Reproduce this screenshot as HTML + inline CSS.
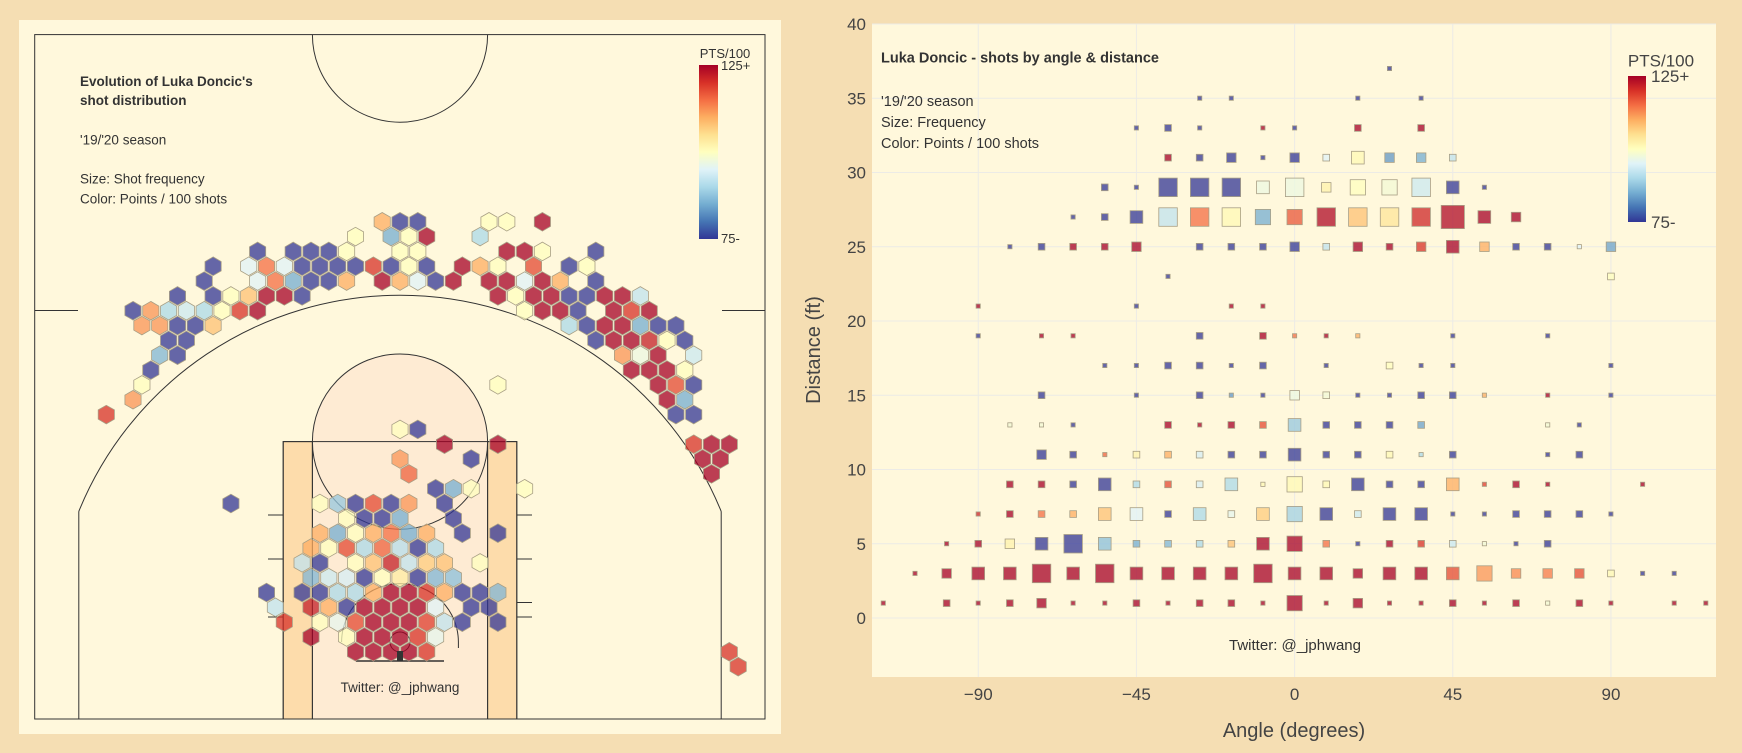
<!DOCTYPE html>
<html><head><meta charset="utf-8">
<style>
html,body{margin:0;padding:0;background:#f5deb3;}
svg{display:block;font-family:"Liberation Sans",sans-serif;}
</style></head>
<body>
<svg id="root" width="1742" height="753" viewBox="0 0 1742 753" xmlns="http://www.w3.org/2000/svg">
<defs>
<linearGradient id="cbar" x1="0" y1="1" x2="0" y2="0">
<stop offset="0" stop-color="#313695"/><stop offset="0.1" stop-color="#4575b4"/><stop offset="0.2" stop-color="#74add1"/><stop offset="0.3" stop-color="#abd9e9"/><stop offset="0.4" stop-color="#e0f3f8"/><stop offset="0.5" stop-color="#ffffbf"/><stop offset="0.6" stop-color="#fee090"/><stop offset="0.7" stop-color="#fdae61"/><stop offset="0.8" stop-color="#f46d43"/><stop offset="0.9" stop-color="#d73027"/><stop offset="1" stop-color="#a50026"/>
</linearGradient>
</defs>
<rect x="0" y="0" width="1742" height="753" fill="#f5deb3"/>

<!-- LEFT PANEL -->
<g>
<rect x="19" y="20" width="762" height="714" fill="#fff8dc"/>
<g fill="none" stroke="#333" stroke-width="1">
<rect x="283.2" y="441.6" width="233.6" height="277.4" fill="#fddcab"/>
<rect x="312.4" y="441.6" width="175.2" height="277.4" fill="#feebd3"/>
<circle cx="400" cy="441.6" r="87.6" fill="#feebd3"/>
<rect x="283.2" y="441.6" width="233.6" height="277.4"/>
<line x1="312.4" y1="441.6" x2="312.4" y2="719"/>
<line x1="487.6" y1="441.6" x2="487.6" y2="719"/>
<rect x="34.7" y="34.6" width="730.3" height="684.4"/>
<path d="M312.4,34.6 A87.6 87.6 0 0 0 487.6,34.6"/>
<line x1="34.7" y1="310.5" x2="78" y2="310.5"/>
<line x1="722" y1="310.5" x2="765" y2="310.5"/>
<line x1="78.8" y1="719" x2="78.8" y2="511.4"/>
<line x1="721.2" y1="719" x2="721.2" y2="511.4"/>
<path d="M78.8,511.4 A346.75 346.75 0 0 1 721.2,511.4"/>
<line x1="268" y1="515" x2="283.2" y2="515"/>
<line x1="268" y1="559" x2="283.2" y2="559"/>
<line x1="268" y1="617" x2="283.2" y2="617"/>
<line x1="516.8" y1="515" x2="532" y2="515"/>
<line x1="516.8" y1="559" x2="532" y2="559"/>
<line x1="516.8" y1="602.5" x2="532" y2="602.5"/>
<line x1="516.8" y1="617" x2="532" y2="617"/>
<path d="M341.6,642 A58.4 58.4 0 0 1 458.4,642 L458.4,648"/>
<line x1="356" y1="661" x2="444" y2="661" stroke-width="1.5"/>
<circle cx="400" cy="642" r="10"/>
</g>
<g id="hexLayer"></g>
<rect x="397" y="651" width="6" height="10" fill="#333"/>
<g fill="#333" font-size="13.5">
<text x="80" y="86" font-weight="bold">Evolution of Luka Doncic's</text>
<text x="80" y="105" font-weight="bold">shot distribution</text>
<text x="80" y="144.5">'19/'20 season</text>
<text x="80" y="183.5">Size: Shot frequency</text>
<text x="80" y="203.5">Color: Points / 100 shots</text>
<text x="400" y="692" text-anchor="middle">Twitter: @_jphwang</text>
</g>
<g>
<rect x="699" y="65" width="19" height="174" fill="url(#cbar)"/>
<text x="725" y="58" font-size="13" fill="#333" text-anchor="middle">PTS/100</text>
<text x="721" y="70" font-size="13" fill="#333">125+</text>
<text x="721" y="243" font-size="13" fill="#333">75-</text>
</g>
</g>

<!-- RIGHT PANEL -->
<g>
<rect x="872" y="24" width="844" height="653" fill="#fff8dc"/>
<g id="gridLayer"></g>
<g id="tickLayer"></g>
<g id="sqLayer"></g>
<text x="881" y="62.5" font-size="14.5" font-weight="bold" fill="#333">Luka Doncic - shots by angle &amp; distance</text>
<text x="881" y="106" font-size="14.5" fill="#333">'19/'20 season</text>
<text x="881" y="127" font-size="14.5" fill="#333">Size: Frequency</text>
<text x="881" y="148" font-size="14.5" fill="#333">Color: Points / 100 shots</text>
<text x="1295" y="650" font-size="15" fill="#333" text-anchor="middle">Twitter: @_jphwang</text>
<g>
<rect x="1628" y="76" width="18" height="146" fill="url(#cbar)"/>
<text x="1661" y="66.5" font-size="17" fill="#444" text-anchor="middle">PTS/100</text>
<text x="1651" y="82" font-size="17" fill="#444">125+</text>
<text x="1651" y="228" font-size="17" fill="#444">75-</text>
</g>
<text x="1294" y="737" font-size="20" fill="#444" text-anchor="middle">Angle (degrees)</text>
<text x="0" y="0" font-size="20" fill="#444" text-anchor="middle" transform="translate(820,350) rotate(-90)">Distance (ft)</text>
</g>
</svg>
<script>
// ---------- Hex court data ----------
const hexRows = [28,27,26,25,24,23,22,21,20,19,18,17,16,15,14,13,12,11,10,9,8,7,6,5,4,3,2,1,0,-1,-2];
const hexCols = [
[-1,0,1,5,6,8],
[-3,-1,0,1,4],
[-8,-6,-5,-4,-3,0,1,6,7,8,11],
[-11,-9,-8,-7,-6,-5,-4,-3,-2,-1,0,1,3,4,5,7,9,10],
[-11,-8,-7,-6,-5,-4,-3,-1,0,1,2,3,5,6,7,8,9,11],
[-13,-11,-10,-9,-8,-7,-6,5,6,7,8,9,10,11,12,13],
[-15,-14,-13,-12,-11,-10,-9,-8,7,8,9,10,12,13,14],
[-15,-14,-13,-12,-11,9,10,11,12,13,14,15],
[-13,-12,11,12,13,14,15,16],
[-14,-13,12,13,14,16],
[-14,13,14,15,16],
[-15,5,14,15,16],
[-15,15,16],
[-17,15,16],
[0,1],
[2,5,16,17,18],
[0,4,17,18],
[0,17],
[2,3,4,7],
[-10,-5,-4,-3,-2,-1,0,2],
[-3,-2,-1,0,3],
[-5,-4,-3,-2,-1,0,1,3,5],
[-5,-4,-3,-2,-1,0,1,2],
[-6,-5,-3,-2,-1,0,1,2,4],
[-5,-4,-3,-2,-1,0,1,2,3],
[-8,-6,-5,-4,-3,-2,-1,0,1,2,3,4,5],
[-7,-5,-4,-3,-2,-1,0,1,2,4,5],
[-7,-5,-4,-3,-2,-1,0,1,2,3,5],
[-5,-3,-2,-1,0,1,2],
[-3,-2,-1,0,1,18],
[19]
];
const hexPts = [
[110,75,75,100,100,125],
[100,85,100,125,90],
[75,75,75,75,100,100,100,125,125,100,75],
[75,95,115,95,75,75,75,75,120,75,100,75,125,110,100,118,75,100],
[75,95,115,85,75,75,110,125,110,95,75,125,125,125,95,125,110,75],
[75,75,100,108,125,125,75,125,100,125,125,75,75,125,125,92],
[75,112,90,93,90,100,120,125,100,125,125,75,125,120,125],
[112,112,75,75,108,90,75,125,125,85,75,75],
[75,75,75,125,125,122,100,75],
[86,75,112,97,125,93],
[75,125,125,125,100],
[100,100,125,118,75],
[112,125,85],
[120,75,75],
[100,75],
[125,125,120,125,125],
[112,75,125,125],
[116,125],
[75,85,100,100],
[75,100,88,75,118,75,112,75],
[100,75,75,85,75],
[110,85,100,110,115,85,110,75,75],
[110,100,118,90,116,91,75,90],
[92,75,100,108,122,92,107,108,100],
[86,93,94,75,100,103,75,86,87],
[75,75,75,90,90,110,125,125,120,110,75,75,86],
[92,122,110,75,125,125,125,125,95,75,75],
[120,100,96,118,125,125,125,119,92,75,75],
[125,100,125,125,125,120,96],
[125,125,125,125,120,120],
[120]
];

// ---------- Angle/distance square data ----------
const sqDist = [37,35,33,31,29,27,25,23,21,19,17,15,13,11,9,7,5,3,1];
const sqAngle = [
[27],
[-27,-18,18,36],
[-45,-36,-27,-9,0,18,36],
[-36,-27,-18,-9,0,9,18,27,36,45],
[-54,-45,-36,-27,-18,-9,0,9,18,27,36,45,54],
[-63,-54,-45,-36,-27,-18,-9,0,9,18,27,36,45,54,63],
[-81,-72,-63,-54,-45,-27,-18,-9,0,9,18,27,36,45,54,63,72,81,90],
[-36,90],
[-90,-45,-18,-9],
[-90,-72,-63,-27,-9,0,9,18,45,72],
[-54,-45,-36,-27,-18,-9,9,27,36,45,90],
[-72,-45,-27,-18,-9,0,9,18,27,36,45,54,72,90],
[-81,-72,-63,-36,-27,-18,-9,0,9,18,27,36,72,81],
[-72,-63,-54,-45,-36,-27,-18,-9,0,9,18,27,36,45,72,81],
[-81,-72,-63,-54,-45,-36,-27,-18,-9,0,9,18,27,36,45,54,63,72,99],
[-90,-81,-72,-63,-54,-45,-36,-27,-18,-9,0,9,18,27,36,45,54,63,72,81,90],
[-99,-90,-81,-72,-63,-54,-45,-36,-27,-18,-9,0,9,18,27,36,45,54,63,72],
[-108,-99,-90,-81,-72,-63,-54,-45,-36,-27,-18,-9,0,9,18,27,36,45,54,63,72,81,90,99,108],
[-117,-99,-90,-81,-72,-63,-54,-45,-36,-27,-18,-9,0,9,18,27,36,45,54,63,72,81,90,108,117]
];
const sqFreq = [
[2],
[2,2,2,2],
[2,5,2,2,2,5,5],
[5,5,10,2,10,5,18,10,10,5],
[5,2,38,38,38,18,38,10,26,26,38,18,2],
[2,5,18,38,38,38,26,26,38,38,38,38,60,18,10],
[2,5,5,5,10,5,5,5,10,5,10,5,10,18,10,5,5,2,10],
[2,5],
[2,2,2,2],
[2,2,2,5,5,2,2,2,2,2],
[2,2,5,5,2,5,2,5,2,2,2],
[5,2,5,2,2,10,5,2,2,5,5,2,2,2],
[2,2,2,5,2,5,5,18,5,5,5,5,2,2],
[10,5,2,5,5,5,5,5,18,5,5,5,2,5,2,5],
[5,5,5,18,5,5,5,18,2,26,5,18,5,5,18,2,5,2,2],
[2,5,5,5,18,18,5,18,5,18,26,18,5,18,18,2,2,5,5,5,2],
[2,5,10,18,38,18,5,5,5,5,18,26,5,2,5,5,5,2,2,5],
[2,10,18,18,38,18,38,18,18,18,18,38,18,18,10,18,18,18,26,10,10,10,5,2,2],
[2,5,2,5,10,2,2,5,2,5,5,2,26,2,10,2,2,5,2,5,2,5,2,2,2]
];
const sqPts = [
[75],
[75,75,75,75],
[75,75,75,125,75,125,125],
[125,75,75,75,75,95,101,83,85,92],
[75,75,75,75,75,97,97,102,100,98,93,75,75],
[75,75,75,92,115,101,85,117,124,108,104,121,124,125,125],
[75,75,125,125,125,75,75,75,75,92,125,125,120,125,110,75,75,95,84],
[75,100],
[125,75,125,125],
[75,125,125,75,125,115,125,110,75,75],
[75,75,75,75,75,75,75,100,75,75,75],
[75,75,75,83,75,97,98,75,75,75,75,110,125,75],
[98,98,75,125,125,125,118,88,75,75,75,84,98,75],
[75,75,116,102,110,94,75,75,75,75,75,101,90,75,75,75],
[125,125,75,75,90,118,94,90,101,101,101,75,75,75,110,119,125,125,125],
[121,125,115,110,108,95,75,90,96,107,89,75,93,75,75,75,75,75,75,75,75],
[125,125,102,75,75,87,85,86,90,108,125,125,115,75,125,120,93,98,75,75],
[125,125,125,125,125,125,125,125,125,125,125,125,125,125,125,125,125,118,112,113,114,118,101,75,75],
[125,125,125,125,125,125,125,125,125,125,125,125,125,125,125,125,125,125,125,125,98,125,125,125,125]
];
const xTicks = [-90,-45,0,45,90];
const yTicks = [0,5,10,15,20,25,30,35,40];

const NS = "http://www.w3.org/2000/svg";
const stops = [[49,54,149],[69,117,180],[116,173,209],[171,217,233],[224,243,248],[255,255,191],[254,224,144],[253,174,97],[244,109,67],[215,48,39],[165,0,38]];
function colorFor(p){
  let t = Math.max(0, Math.min(1, (p-75)/50)) * 10;
  const i = Math.min(9, Math.floor(t)); const f = t - i;
  const a = stops[i], b = stops[i+1];
  return "rgb(" + [0,1,2].map(k => Math.round(a[k] + (b[k]-a[k])*f)).join(",") + ")";
}

// Hex layer
const hexLayer = document.getElementById("hexLayer");
const hx = (c, r) => 400 + 17.8 * (c + (Math.abs(r) % 2 ? 0.5 : 0));
const hy = r => 637 - 14.83 * r;
const HR = 9.3;
hexRows.forEach((r, ri) => {
  hexCols[ri].forEach((c, ci) => {
    const cx = hx(c, r), cy = hy(r);
    const pts = [];
    for (let k = 0; k < 6; k++) {
      const ang = Math.PI / 180 * (60 * k - 90);
      pts.push((cx + HR * Math.cos(ang)).toFixed(1) + "," + (cy + HR * Math.sin(ang)).toFixed(1));
    }
    const poly = document.createElementNS(NS, "polygon");
    poly.setAttribute("points", pts.join(" "));
    poly.setAttribute("fill", colorFor(hexPts[ri][ci]));
    poly.setAttribute("fill-opacity", "0.75");
    poly.setAttribute("stroke", "#a89f85");
    poly.setAttribute("stroke-width", "0.8");
    
    
    hexLayer.appendChild(poly);
  });
});

// Right chart axes
const xScale = a => 1294.6 + 3.515 * a;
const yScale = d => 618 - 14.85 * d;
const gridLayer = document.getElementById("gridLayer");
const tickLayer = document.getElementById("tickLayer");
xTicks.forEach(v => {
  const l = document.createElementNS(NS, "line");
  l.setAttribute("x1", xScale(v)); l.setAttribute("x2", xScale(v));
  l.setAttribute("y1", 24); l.setAttribute("y2", 677);
  l.setAttribute("stroke", "#ecebe6"); l.setAttribute("stroke-width", "1");
  
  
  gridLayer.appendChild(l);
  const t = document.createElementNS(NS, "text");
  t.setAttribute("x", xScale(v)); t.setAttribute("y", 700);
  t.setAttribute("text-anchor", "middle"); t.setAttribute("font-size", "17"); t.setAttribute("fill", "#444");
  t.textContent = v < 0 ? "\u2212" + Math.abs(v) : String(v);
  
  
  tickLayer.appendChild(t);
});
yTicks.forEach(v => {
  const l = document.createElementNS(NS, "line");
  l.setAttribute("x1", 872); l.setAttribute("x2", 1716);
  l.setAttribute("y1", yScale(v)); l.setAttribute("y2", yScale(v));
  l.setAttribute("stroke", "#ecebe6"); l.setAttribute("stroke-width", "1");
  
  
  gridLayer.appendChild(l);
  const t = document.createElementNS(NS, "text");
  t.setAttribute("x", 866); t.setAttribute("y", yScale(v) + 6);
  t.setAttribute("text-anchor", "end"); t.setAttribute("font-size", "17"); t.setAttribute("fill", "#444");
  t.textContent = String(v);
  
  
  tickLayer.appendChild(t);
});

// Squares
const sqLayer = document.getElementById("sqLayer");
sqDist.forEach((d, ri) => {
  sqAngle[ri].forEach((a, ci) => {
    const s = 3 * Math.sqrt(sqFreq[ri][ci]);
    const r = document.createElementNS(NS, "rect");
    r.setAttribute("x", (xScale(a) - s / 2).toFixed(1));
    r.setAttribute("y", (yScale(d) - s / 2).toFixed(1));
    r.setAttribute("width", s.toFixed(1)); r.setAttribute("height", s.toFixed(1));
    r.setAttribute("fill", colorFor(sqPts[ri][ci]));
    r.setAttribute("fill-opacity", "0.75");
    r.setAttribute("stroke", "#a89f85"); r.setAttribute("stroke-width", "0.8");
    
    
    sqLayer.appendChild(r);
  });
});
</script>
</body></html>
